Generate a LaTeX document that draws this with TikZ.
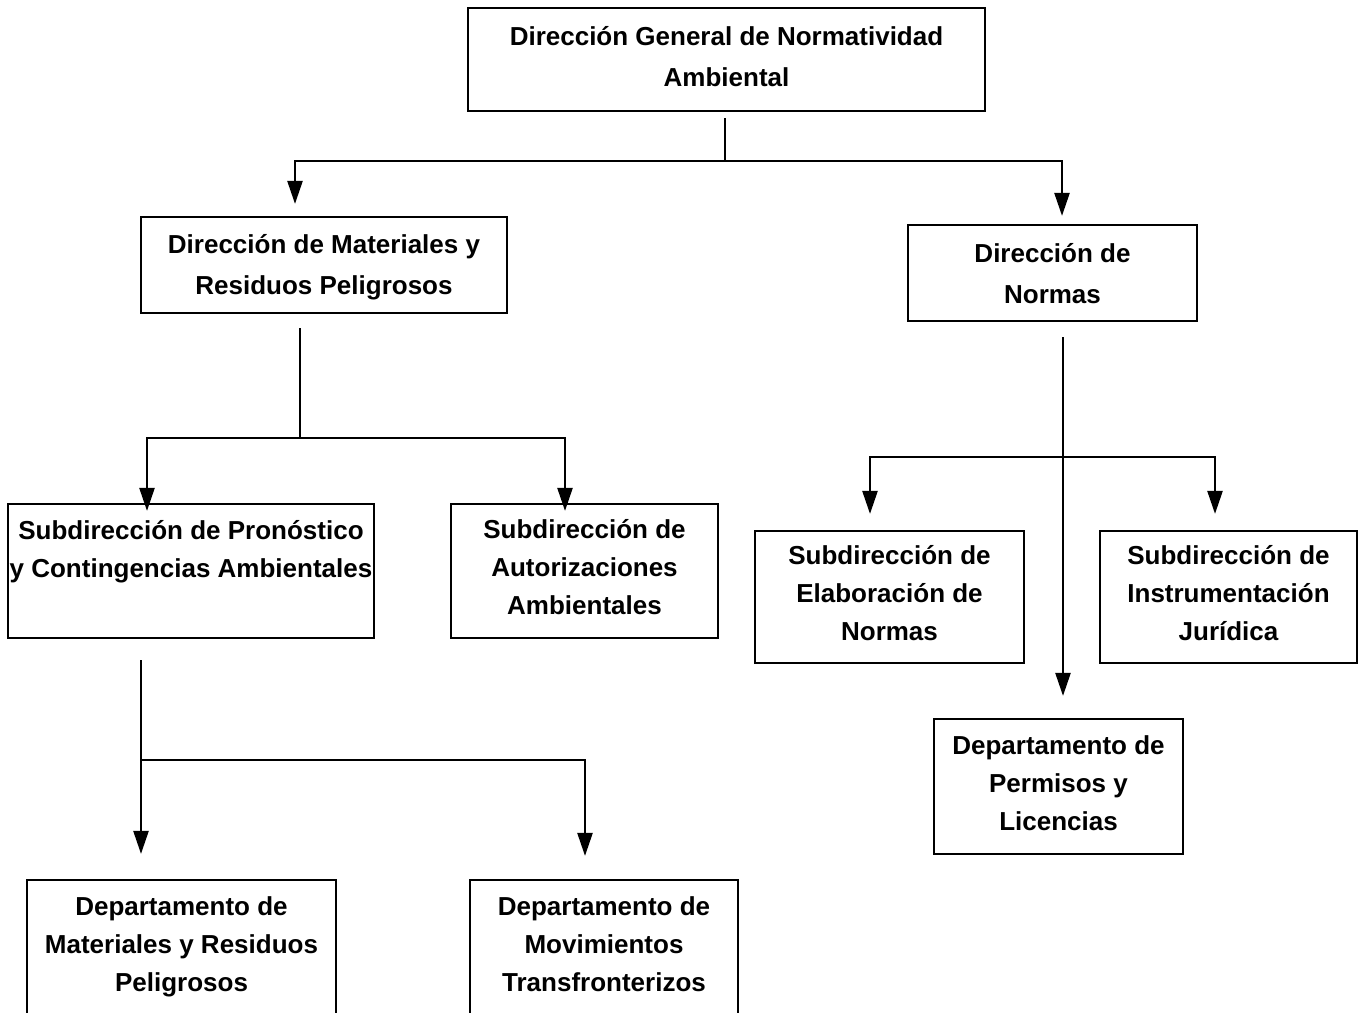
\documentclass[tikz,border=0pt]{standalone}
\usepackage{fontspec}
\setmainfont{Liberation Sans}
\usetikzlibrary{arrows.meta}
\begin{document}
\begin{tikzpicture}[x=1pt,y=-1pt,
  box/.style={draw,line width=2.2pt,inner sep=0pt},
  txt/.style={align=center,inner sep=0pt,font=\fontsize{26}{38}\selectfont\bfseries,
    execute at begin node=\strut, execute at end node=\strut},
  two/.style={txt,font=\fontsize{26}{41}\selectfont\bfseries},
  ln/.style={line width=2.4pt},
  arr/.style={line width=2.4pt,-{Triangle[length=23pt,width=15pt]}}]
\useasboundingbox (0,0) rectangle (1362,1012);
\fill[white] (0,0) rectangle (1362,1012);
\begin{scope}
\clip (0,0) rectangle (1362,1012);
\node[box,minimum width=517,minimum height=103] (dg) at (726.5,59.5) {};
\node[two,yshift=-3.5pt] (dg-t) at (dg.center) {Dirección General de Normatividad\\Ambiental};
\node[box,minimum width=366,minimum height=96] (dm) at (324,265) {};
\node[two,yshift=-6pt] (dm-t) at (dm.center) {Dirección de Materiales y\\Residuos Peligrosos};
\node[box,minimum width=289,minimum height=96] (dn) at (1052.5,273) {};
\node[two,yshift=-7pt] (dn-t) at (dn.center) {Dirección de\\Normas};
\node[box,minimum width=366,minimum height=134] (sp) at (191,571) {};
\node[txt,yshift=-3pt] (sp-t) at (sp.center) {Subdirección de Pronóstico\\y Contingencias Ambientales\\\mbox{}};
\node[box,minimum width=267,minimum height=134] (sa) at (584.5,571) {};
\node[txt,yshift=-2pt] (sa-t) at (sa.center) {Subdirección de\\Autorizaciones\\Ambientales};
\node[box,minimum width=269,minimum height=132] (se) at (889.5,597) {};
\node[txt,yshift=-2pt] (se-t) at (se.center) {Subdirección de\\Elaboración de\\Normas};
\node[box,minimum width=257,minimum height=132] (si) at (1228.5,597) {};
\node[txt,yshift=-2pt] (si-t) at (si.center) {Subdirección de\\Instrumentación\\Jurídica};
\node[box,minimum width=249,minimum height=135] (dp) at (1058.5,786.5) {};
\node[txt,yshift=-2pt] (dp-t) at (dp.center) {Departamento de\\Permisos y\\Licencias};
\node[box,minimum width=309,minimum height=134] (dmr) at (181.5,947) {};
\node[txt,yshift=-3pt] (dmr-t) at (dmr.center) {Departamento de\\Materiales y Residuos\\Peligrosos};
\node[box,minimum width=268,minimum height=134] (dmt) at (604,947) {};
\node[txt,yshift=-3pt] (dmt-t) at (dmt.center) {Departamento de\\Movimientos\\Transfronterizos};

% top level
\coordinate (t0) at (725,118);
\coordinate (t1) at (725,161);
\coordinate (tL) at (295,161);
\coordinate (tR) at (1062,161);
\draw[ln] (t0) -- (t1);
\draw[arr,shorten >=12pt] (t1) -- (tL) -- (tL |- dm.north);
\draw[arr,shorten >=8pt] (t1) -- (tR) -- (tR |- dn.north);

% Direccion de Materiales
\coordinate (m0) at (300,328);
\coordinate (m1) at (300,438);
\coordinate (mL) at (147,438);
\coordinate (mR) at (565,438);
\draw[ln] (m0) -- (m1);
\draw[arr,shorten >=-8pt] (m1) -- (mL) -- (mL |- sp.north);
\draw[arr,shorten >=-8pt] (m1) -- (mR) -- (mR |- sa.north);

% Direccion de Normas
\coordinate (n0) at (1063,337);
\coordinate (n1) at (1063,457);
\coordinate (nL) at (870,457);
\coordinate (nR) at (1215,457);
\draw[arr,shorten >=22pt] (n0) -- (n0 |- dp.north);
\draw[arr,shorten >=16pt] (n1) -- (nL) -- (nL |- se.north);
\draw[arr,shorten >=16pt] (n1) -- (nR) -- (nR |- si.north);

% Subdireccion de Pronostico
\coordinate (p0) at (141,660);
\coordinate (p1) at (141,760);
\coordinate (pR) at (585,760);
\draw[arr,shorten >=25pt] (p0) -- (p0 |- dmr.north);
\draw[arr,shorten >=23pt] (p1) -- (pR) -- (pR |- dmt.north);
\end{scope}
\end{tikzpicture}
\end{document}
